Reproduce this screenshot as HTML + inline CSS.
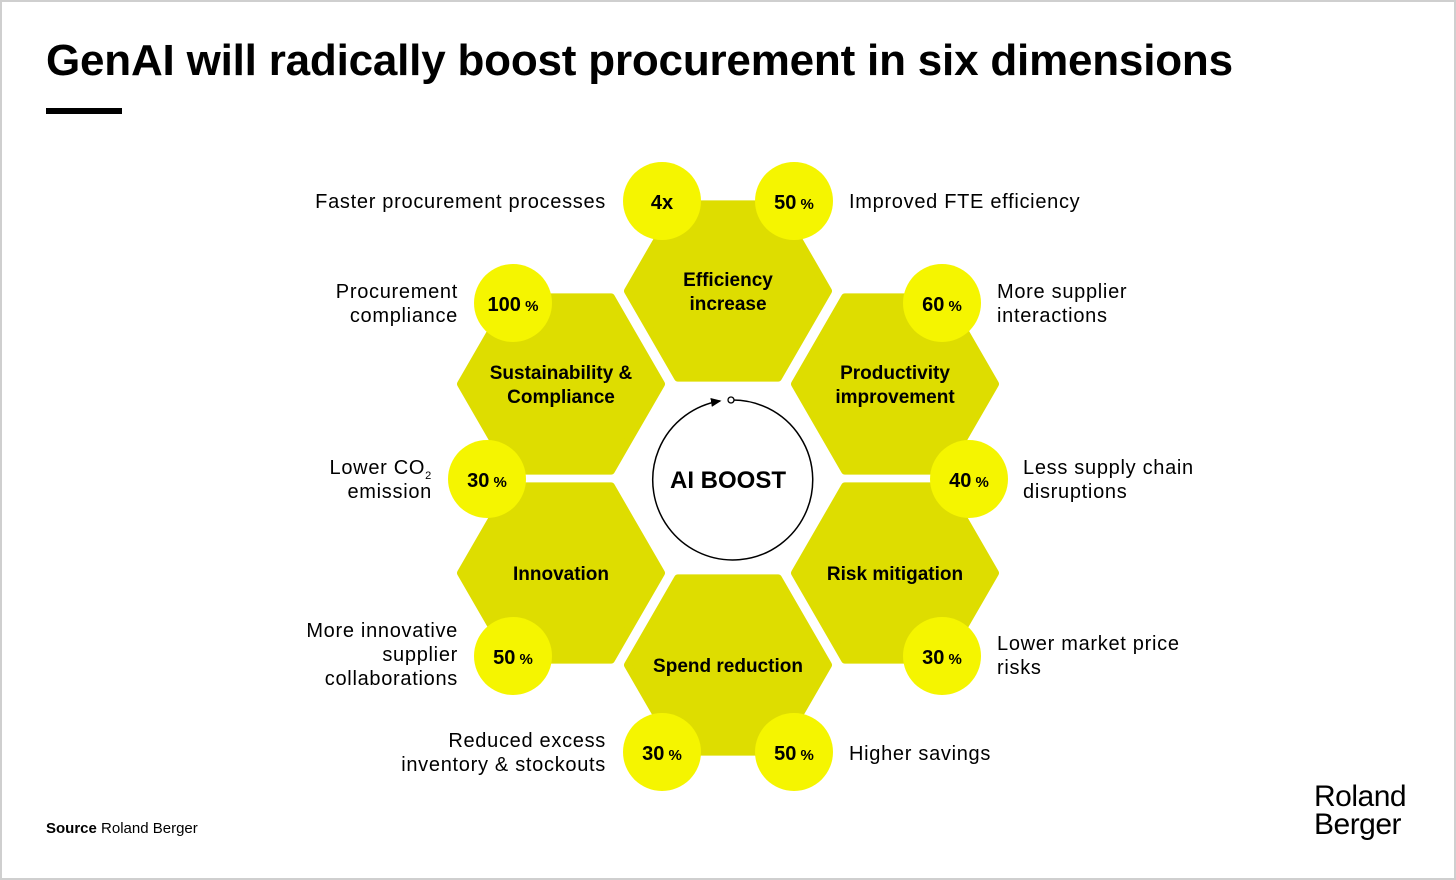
<!DOCTYPE html>
<html><head><meta charset="utf-8"><style>
html,body{margin:0;padding:0}
body{width:1456px;height:880px;position:relative;background:#fff;font-family:"Liberation Sans",sans-serif;overflow:hidden}
.frame{position:absolute;left:0;top:0;width:1452px;height:876px;border:2px solid #cfcfcf}
h1{position:absolute;left:46px;top:36px;margin:0;font-size:44px;font-weight:bold;letter-spacing:-0.2px;color:#000}
.bar{position:absolute;left:46px;top:108px;width:76px;height:6px;background:#000}
.src{position:absolute;left:46px;top:820px;font-size:15px}
.logo{position:absolute;left:1314px;top:783px;font-size:30px;line-height:28px;letter-spacing:-0.5px}
</style></head><body>
<div class="frame"></div>
<h1>GenAI will radically boost procurement in six dimensions</h1>
<div class="bar"></div>
<svg width="1456" height="880" style="position:absolute;left:0;top:0" font-family="Liberation Sans, sans-serif">
<defs>
<polygon id="hx" points="-100,0 -50,-86.6 50,-86.6 100,0 50,86.6 -50,86.6" fill="#dedd00" stroke="#dedd00" stroke-width="8" stroke-linejoin="round"/>
<marker id="ar" markerWidth="8" markerHeight="8" refX="6" refY="4" orient="auto"><path d="M0,1 L7,4 L0,7z" fill="#000"/></marker>
</defs>
<use href="#hx" x="728" y="291"/>
<use href="#hx" x="561" y="384"/>
<use href="#hx" x="895" y="384"/>
<use href="#hx" x="561" y="573"/>
<use href="#hx" x="895" y="573"/>
<use href="#hx" x="728" y="665"/>
<g fill="#f5f500">
<circle cx="662" cy="201" r="39"/><circle cx="794" cy="201" r="39"/>
<circle cx="513" cy="303" r="39"/><circle cx="942" cy="303" r="39"/>
<circle cx="487" cy="479" r="39"/><circle cx="969" cy="479" r="39"/>
<circle cx="513" cy="656" r="39"/><circle cx="942" cy="656" r="39"/>
<circle cx="662" cy="752" r="39"/><circle cx="794" cy="752" r="39"/>
</g>
<path d="M731,400 A80,80 0 1 1 720,401" fill="none" stroke="#000" stroke-width="1.5" marker-end="url(#ar)"/>
<circle cx="731" cy="400" r="3" fill="#fff" stroke="#000" stroke-width="1.3"/>
<text x="728" y="488" text-anchor="middle" font-size="24" font-weight="bold">AI BOOST</text>
<g font-size="19" font-weight="bold" text-anchor="middle">
<text x="728" y="286">Efficiency</text><text x="728" y="310">increase</text>
<text x="561" y="379">Sustainability &amp;</text><text x="561" y="403">Compliance</text>
<text x="895" y="379">Productivity</text><text x="895" y="403">improvement</text>
<text x="561" y="580">Innovation</text>
<text x="895" y="580">Risk mitigation</text>
<text x="728" y="672">Spend reduction</text>
</g>
<g font-size="20" font-weight="bold" text-anchor="middle">
<text x="662" y="209">4x</text><text x="794" y="209">50<tspan font-size="15"> %</tspan></text>
<text x="513" y="311">100<tspan font-size="15"> %</tspan></text><text x="942" y="311">60<tspan font-size="15"> %</tspan></text>
<text x="487" y="487">30<tspan font-size="15"> %</tspan></text><text x="969" y="487">40<tspan font-size="15"> %</tspan></text>
<text x="513" y="664">50<tspan font-size="15"> %</tspan></text><text x="942" y="664">30<tspan font-size="15"> %</tspan></text>
<text x="662" y="760">30<tspan font-size="15"> %</tspan></text><text x="794" y="760">50<tspan font-size="15"> %</tspan></text>
</g>
<g font-size="20" letter-spacing="0.7">
<g text-anchor="end">
<text x="606" y="208">Faster procurement processes</text>
<text x="458" y="298">Procurement</text><text x="458" y="322">compliance</text>
<text x="432" y="474">Lower CO<tspan font-size="11" dy="5">2</tspan></text><text x="432" y="498">emission</text>
<text x="458" y="637">More innovative</text><text x="458" y="661">supplier</text><text x="458" y="685">collaborations</text>
<text x="606" y="747">Reduced excess</text><text x="606" y="771">inventory &amp; stockouts</text>
</g>
<text x="849" y="208">Improved FTE efficiency</text>
<text x="997" y="298">More supplier</text><text x="997" y="322">interactions</text>
<text x="1023" y="474">Less supply chain</text><text x="1023" y="498">disruptions</text>
<text x="997" y="650">Lower market price</text><text x="997" y="674">risks</text>
<text x="849" y="760">Higher savings</text>
</g>
</svg>
<div class="src"><b>Source</b> Roland Berger</div>
<div class="logo">Roland<br>Berger</div>
</body></html>
